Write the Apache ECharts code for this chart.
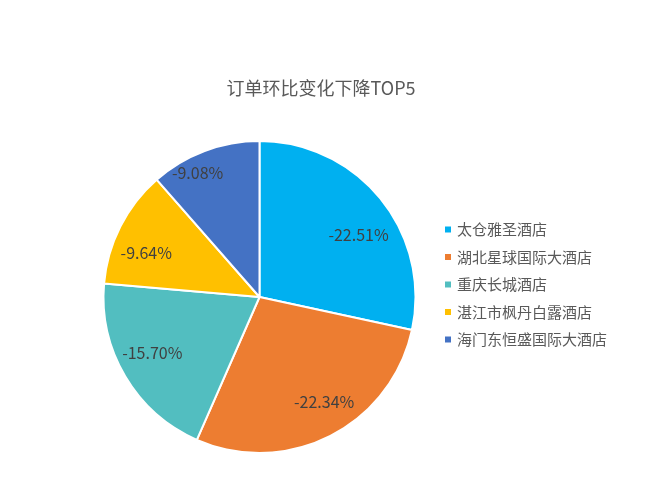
<!DOCTYPE html>
<html><head><meta charset="utf-8">
<script src="https://cdn.jsdelivr.net/npm/echarts@6/dist/echarts.min.js"></script>
<style>html,body{margin:0;padding:0;background:#fff}#c{width:650px;height:497px}</style>
</head><body><div id="c"></div>
<script>
const titleText = '订单环比变化下降TOP5';
const categories = ['太仓雅圣酒店','湖北星球国际大酒店','重庆长城酒店','湛江市枫丹白露酒店','海门东恒盛国际大酒店'];
const values = [-22.51, -22.34, -15.70, -9.64, -9.08];
const colors = ['#00B0F0','#ED7D31','#52BEC0','#FFC000','#4472C4'];
// small label nudges (styling) to mimic the original best-fit label placement
const labelNudge = [[2,16],[8,-6],[0,-8],[-2,12],[-18,-7]];

const font = '"Noto Sans CJK SC", "Noto Sans", sans-serif';
const R = 156;
const center = [259.5, 297];
const chart = echarts.init(document.getElementById('c'));
const pieData = categories.map((n,i)=>({name:n, value:Math.abs(values[i]), raw:values[i], itemStyle:{color:colors[i]}}));
const labelData = categories.map((n,i)=>({name:n, value:Math.abs(values[i]), raw:values[i]}));
chart.setOption({
  backgroundColor:'#fff',
  animation:false,
  title:{text:titleText, left:316, top:74, textAlign:'center',
    textStyle:{fontFamily:font, fontSize:18, fontWeight:'normal', color:'#595959'}},
  legend:{orient:'vertical', left:438, top:217, itemWidth:8, itemHeight:8, itemGap:12.5, icon:'rect',
    data:categories,
    textStyle:{fontFamily:font, fontSize:15, color:'#595959'}},
  series:[
    {type:'pie', center:center, radius:[0,R], startAngle:90, clockwise:true,
     itemStyle:{borderColor:'#fff', borderWidth:2},
     label:{show:false}, labelLine:{show:false}, data:pieData},
    {type:'pie', center:center, radius:[R*0.56,R], startAngle:90, clockwise:true, silent:true,
     itemStyle:{color:'rgba(0,0,0,0)', borderWidth:0},
     label:{show:true, position:'inside', fontFamily:font, fontSize:16, color:'#404040',
       formatter:p=>p.data.raw.toFixed(2)+'%'},
     labelLayout:p=>({dx:labelNudge[p.dataIndex][0], dy:labelNudge[p.dataIndex][1]}),
     labelLine:{show:false}, data:labelData}
  ]
});
</script></body></html>
